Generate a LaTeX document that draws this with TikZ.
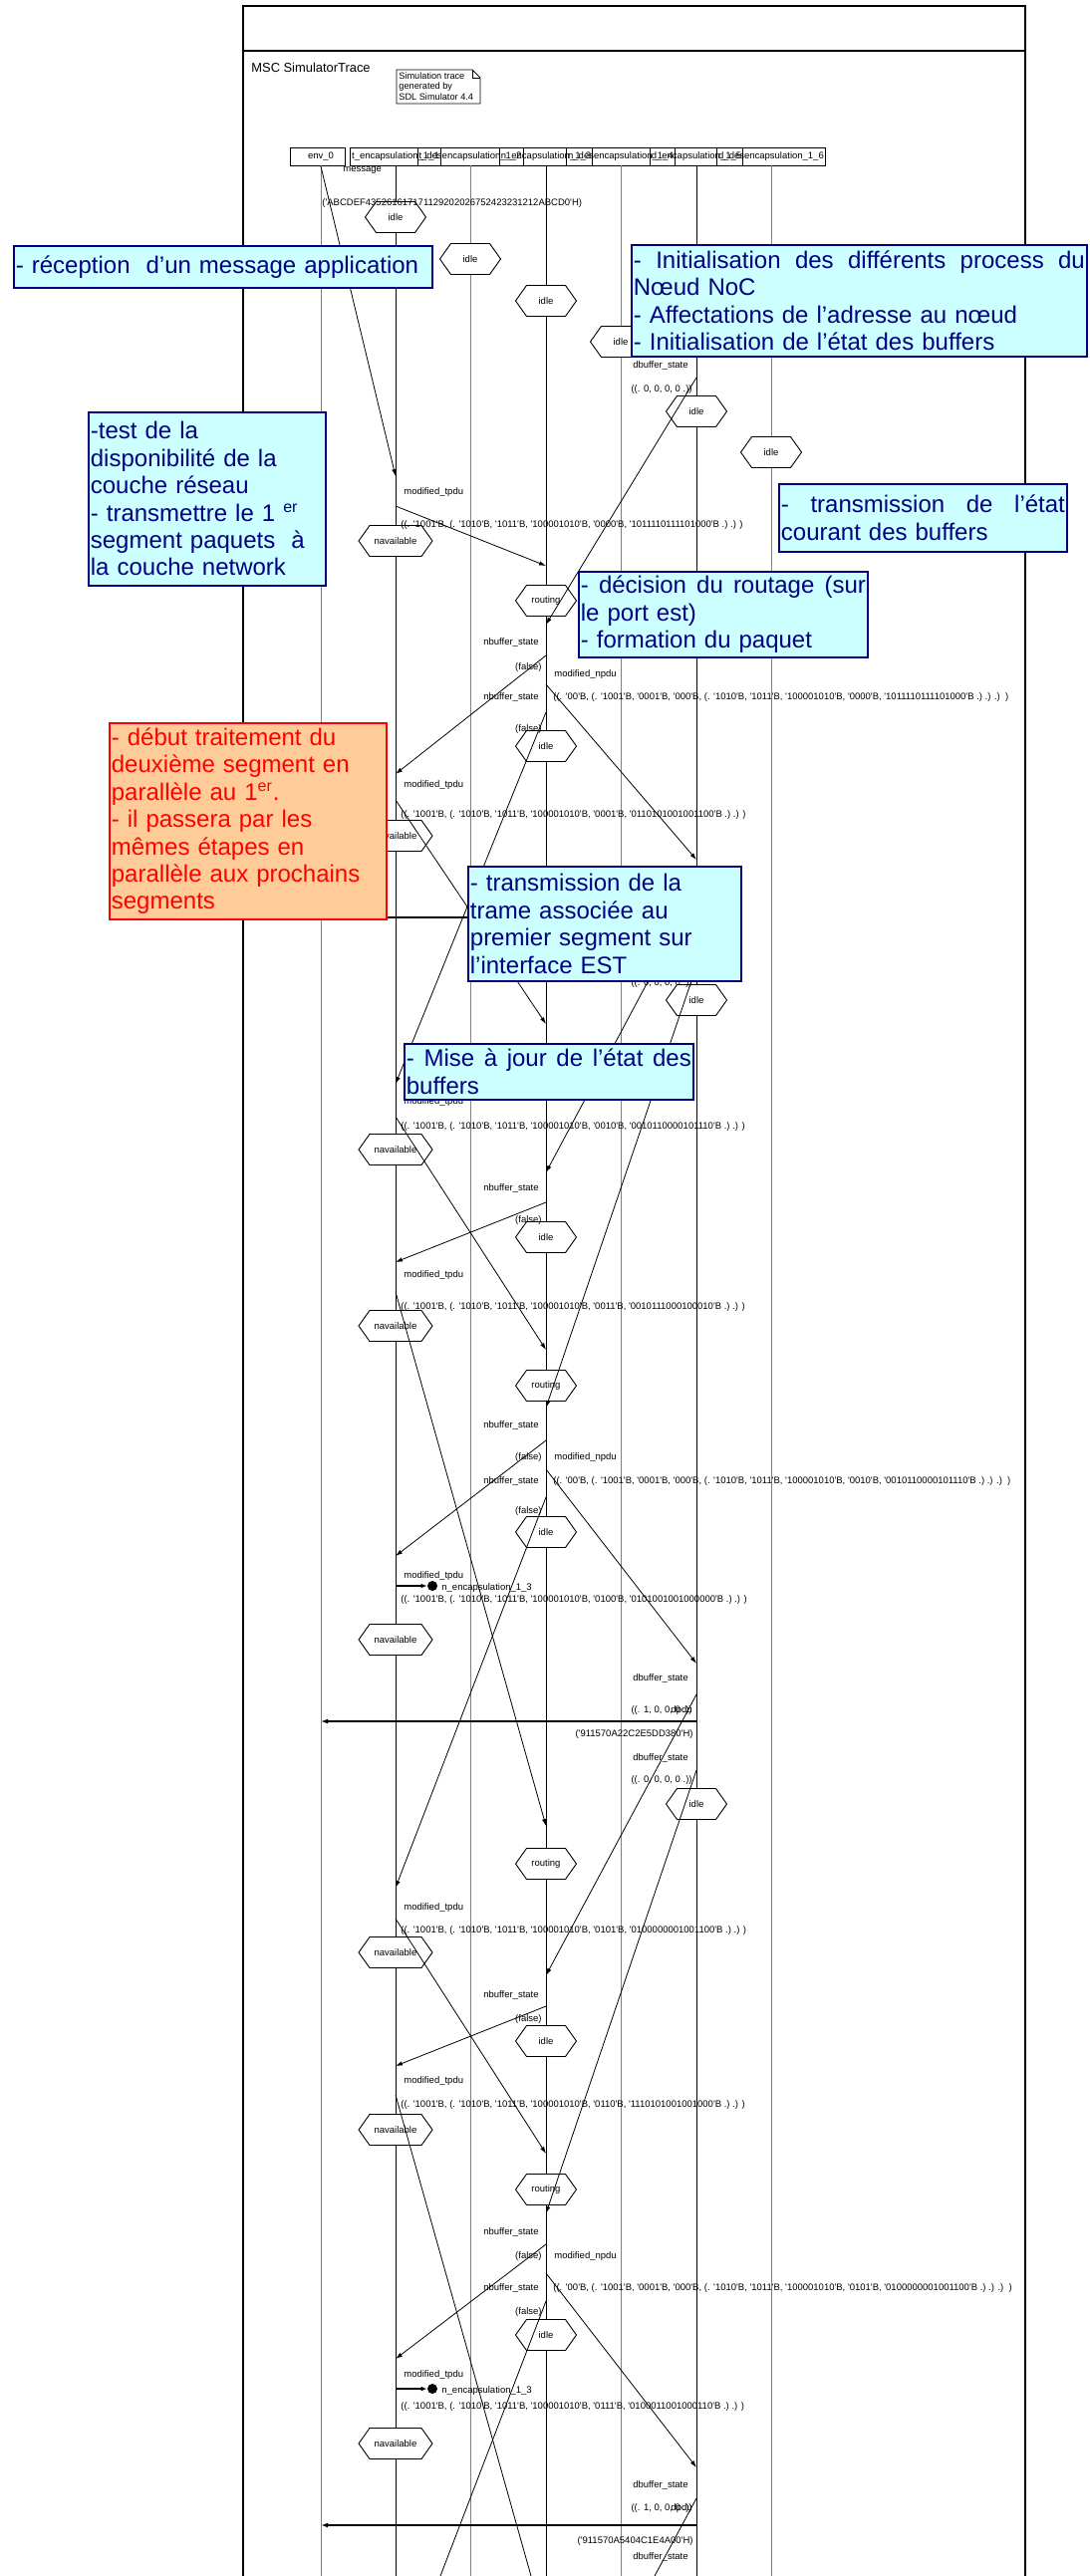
\documentclass[tikz,border=0pt]{standalone}
\usepackage{fontspec}
\usetikzlibrary{arrows.meta}
\newfontfamily\arialf{Liberation Sans}
\definecolor{callcyan}{HTML}{CCFFFF}
\definecolor{callnavy}{HTML}{000080}
\definecolor{callorange}{HTML}{FFCC99}
\definecolor{callred}{HTML}{FF0000}

% parameter strings of the transport and network PDUs
\newcommand\tpar[2]{((. '1001'B, (. '1010'B, '1011'B, '100001010'B, '#1'B, '#2'B .) .) )}
\newcommand\npar[2]{((. '00'B, (. '1001'B, '0001'B, '000'B, (. '1010'B, '1011'B, '100001010'B, '#1'B, '#2'B .) .) .)\ \ )}
% state symbol: name, x, y, half width, label
\newcommand\statehex[5]{%
  \draw[hexframe] (#2-#4,#3) -- (#2-#4+11,#3-15.5) -- (#2+#4-11,#3-15.5) -- (#2+#4,#3)
     -- (#2+#4-11,#3+15.5) -- (#2-#4+11,#3+15.5) -- cycle;
  \node[tr] (#1) at (#2,#3) {#5};}
% message: name, style, x1, y1, x2, y2
\newcommand\msgline[6]{%
  \coordinate (#1s) at (#3,#4);
  \coordinate (#1e) at (#5,#6);
  \draw[#2] (#1s) -- (#1e);}
% a line spread over the full width of its box
\newcommand\fullline[1]{\hbox to\hsize{#1}}

\begin{document}
\begin{tikzpicture}[x=0.5pt,y=-0.5pt,
  tr/.style={font=\arialf\fontsize{4.75}{5.7}\selectfont,inner sep=0pt},
  trl/.style={tr,anchor=west},
  trr/.style={tr,anchor=east},
  head/.style={tr,draw,line width=0.4pt,inner xsep=0.8pt,minimum height=9pt},
  lifedark/.style={line width=0.45pt,black},
  lifelight/.style={line width=0.4pt,black!50},
  hexframe/.style={draw,line width=0.45pt,fill=white},
  msg/.style={line width=0.4pt,-{Latex[length=3.5pt,width=2.2pt]}},
  cut/.style={line width=0.4pt},
  envmsg/.style={line width=0.7pt,-{Latex[length=3.5pt,width=2.4pt]}},
  lostdot/.style={circle,fill=black,inner sep=0pt,minimum size=5pt},
  lost/.style={line width=0.7pt,-{Latex[length=3pt,width=2.4pt]}},
  callbase/.style={line width=0.9pt,anchor=north west,align=left,inner xsep=1pt,inner ysep=0pt,
     font=\arialf\fontsize{12}{13.7}\selectfont},
  bluecall/.style={callbase,draw=callnavy,fill=callcyan,text=callnavy},
  orangecall/.style={callbase,draw=callred,fill=callorange,text=callred},
]
\useasboundingbox (0,0) rectangle (1093,2586);
\clip (0,0) rectangle (1093,2586);
\fill[white] (0,0) rectangle (1093,2586);

% ---- frame ----
\draw[line width=1pt] (244,2600) -- (244,6) -- (1029,6) -- (1029,2600);
\draw[line width=0.6pt] (244,51) -- (1029,51);
\node[anchor=west,inner sep=0pt,font=\arialf\fontsize{6.45}{7.5}\selectfont] (title) at (252,68) {MSC SimulatorTrace};
\draw[line width=0.4pt] (398,70) -- (474,70) -- (482,78) -- (482,104) -- (398,104) -- cycle;
\draw[line width=0.4pt] (474,70) -- (474,78) -- (482,78);
\node[tr,anchor=north west,align=left,font=\arialf\fontsize{4.6}{5.3}\selectfont] (note) at (400,72)
  {Simulation trace\\generated by\\SDL Simulator 4.4};

% ---- instance heads ----
\coordinate (hb) at (0,166);
\coordinate (bot) at (0,2600);
\draw[line width=0.4pt] (291,148) rectangle (346,166);
\node[tr] (h0) at (322,157) {env\_0};
\node[head] (h1) at (397,157) {t\_encapsulation\_1\_1};
\node[head] (h2) at (472,157) {t\_desencapsulation\_1\_2};
\node[head] (h3) at (548,157) {n\_encapsulation\_1\_3};
\node[head] (h4) at (623,157) {n\_desencapsulation\_1\_4};
\node[head] (h5) at (699,157) {d\_encapsulation\_1\_5};
\node[head] (h6) at (774,157) {d\_desencapsulation\_1\_6};

% ---- lifelines ----
\draw[lifelight] (h0 |- hb) -- (h0 |- bot);
\draw[lifedark] (h1 |- hb) -- (h1 |- bot);
\draw[lifelight] (h2 |- hb) -- (h2 |- bot);
\draw[lifedark] (h3 |- hb) -- (h3 |- bot);
\draw[lifelight] (h4 |- hb) -- (h4 |- bot);
\draw[lifedark] (h5 |- hb) -- (h5 |- bot);
\draw[lifelight] (h6 |- hb) -- (h6 |- bot);

% ---- states ----
\statehex{s1}{397}{218}{30.5}{idle}
\statehex{s2}{472}{260}{30.5}{idle}
\statehex{s3}{548}{302}{30.5}{idle}
\statehex{s4}{623}{343}{30.5}{idle}
\statehex{s5}{699}{413}{30.5}{idle}
\statehex{s6}{774}{454}{30.5}{idle}
\statehex{na1}{397}{543}{37}{navailable}
\statehex{na2}{397}{839}{37}{navailable}
\statehex{na3}{397}{1154}{37}{navailable}
\statehex{na4}{397}{1331}{37}{navailable}
\statehex{na5}{397}{1646}{37}{navailable}
\statehex{na6}{397}{1960}{37}{navailable}
\statehex{na7}{397}{2138}{37}{navailable}
\statehex{na8}{397}{2453}{37}{navailable}
\statehex{r1}{548}{603}{30.5}{routing}
\statehex{n1}{548}{749}{30.5}{idle}
\statehex{n2}{548}{1242}{30.5}{idle}
\statehex{r3}{548}{1391}{30.5}{routing}
\statehex{n3}{548}{1538}{30.5}{idle}
\statehex{r4}{548}{1871}{30.5}{routing}
\statehex{n4}{548}{2049}{30.5}{idle}
\statehex{r5}{548}{2198}{30.5}{routing}
\statehex{n5}{548}{2344}{30.5}{idle}
\statehex{d1}{699}{1004}{30.5}{idle}
\statehex{d2}{699}{1811}{30.5}{idle}

% ---- messages ----
\msgline{m0}{msg}{322}{167}{397}{478}
\msgline{m1}{msg}{699}{379}{548}{627}
\msgline{m2}{msg}{397}{508}{548}{568}
\msgline{m3}{msg}{548}{658}{397}{777}
\msgline{m4}{msg}{548}{687}{699}{863}
\msgline{m5}{msg}{548}{715}{397}{1088}
\msgline{m6}{msg}{397}{803}{548}{1028}
\msgline{m7}{msg}{699}{894}{548}{1177}
\msgline{m8}{envmsg}{699}{921}{322}{921}
\msgline{m9}{msg}{699}{970}{548}{1413}
\msgline{m10}{msg}{397}{1121}{548}{1355}
\msgline{m11}{msg}{548}{1207}{397}{1267}
\msgline{m12}{msg}{397}{1297}{548}{1833}
\msgline{m13}{msg}{548}{1446}{397}{1562}
\msgline{m14}{msg}{548}{1475}{699}{1670}
\msgline{m15}{msg}{548}{1503}{397}{1895}
\msgline{m17}{msg}{699}{1701}{548}{1983}
\msgline{m18}{envmsg}{699}{1728}{322}{1728}
\msgline{m19}{msg}{699}{1777}{548}{2222}
\msgline{m20}{msg}{397}{1926}{548}{2162}
\msgline{m21}{msg}{548}{2014}{397}{2074}
\msgline{m22}{cut}{397}{2103}{533}{2586}
\msgline{m23}{msg}{548}{2253}{397}{2368}
\msgline{m24}{msg}{548}{2282}{699}{2477}
\msgline{m25}{cut}{548}{2310}{442}{2586}
\msgline{m27}{cut}{699}{2508}{657}{2586}
\msgline{m28}{envmsg}{699}{2535}{322}{2535}
% lost messages
\coordinate (l1s) at (397,1592);
\node[lostdot] (l1d) at (434,1592) {};
\draw[lost] (l1s) -- (l1d);
\coordinate (l2s) at (397,2398);
\node[lostdot] (l2d) at (434,2398) {};
\draw[lost] (l2s) -- (l2d);
\node[trl] (l1t) at (443,1594) {n\_encapsulation\_1\_3};
\node[trl] (l2t) at (443,2400) {n\_encapsulation\_1\_3};

% ---- message labels ----
\node[trl] (g0) at (344,171) {message};
\node[trl] (g0p) at (323,204) {('ABCDEF435261617171129202026752423231212ABCD0'H)};

\node[trl] (ta1) at (405,494) {modified\_tpdu};
\node[trl] (tp1) at (402,527) {\tpar{0000}{1011110111101000}};
\node[trl] (ta2) at (405,788) {modified\_tpdu};
\node[trl] (tp2) at (402,818) {\tpar{0001}{0110101001001100}};
\node[trl] (ta3) at (405,1106) {modified\_tpdu};
\node[trl] (tp3) at (402,1131) {\tpar{0010}{0010110000101110}};
\node[trl] (ta4) at (405,1280) {modified\_tpdu};
\node[trl] (tp4) at (402,1312) {\tpar{0011}{0010111000100010}};
\node[trl] (ta5) at (405,1582) {modified\_tpdu};
\node[trl] (tp5) at (402,1606) {\tpar{0100}{0101001001000000}};
\node[trl] (ta6) at (405,1915) {modified\_tpdu};
\node[trl] (tp6) at (402,1938) {\tpar{0101}{0100000001001100}};
\node[trl] (ta7) at (405,2089) {modified\_tpdu};
\node[trl] (tp7) at (402,2113) {\tpar{0110}{1110101001001000}};
\node[trl] (ta8) at (405,2384) {modified\_tpdu};
\node[trl] (tp8) at (402,2416) {\tpar{0111}{0100011001000110}};

\foreach \y [count=\i] in {645,700,1193,1431,1487,2003,2241,2297}
  \node[trr] (nb\i) at (541,\y) {nbuffer\_state};
\foreach \y [count=\i] in {670,732,1225,1463,1517,2027,2265,2321}
  \node[trr] (fa\i) at (544,\y) {(false)};
\node[trl] (np1) at (556,677) {modified\_npdu};
\node[trl] (np2) at (556,1463) {modified\_npdu};
\node[trl] (np3) at (556,2265) {modified\_npdu};
\node[trl] (nq1) at (555,700) {\npar{0000}{1011110111101000}};
\node[trl] (nq2) at (555,1487) {\npar{0010}{0010110000101110}};
\node[trl] (nq3) at (555,2297) {\npar{0101}{0100000001001100}};

\foreach \y [count=\i] in {367,1685,1765,2495,2567}
  \node[trr] (db\i) at (691,\y) {dbuffer\_state};
\foreach \y [count=\i] in {391,987,1787}
  \node[trr] (dz\i) at (695,\y) {((. 0, 0, 0, 0 .))};
\foreach \y [count=\i] in {1717,2518}{
  \node[trr] (do\i) at (695,\y) {((. 1, 0, 0, 0 .))};
  \node[trr] (dp\i) at (695,\y) {dpdu};}
\node[trr] (dh1) at (696,1741) {('911570A22C2E5DD380'H)};
\node[trr] (dh2) at (696,2551) {('911570A5404C1E4A00'H)};

% ---- comments laid over the trace ----
\node[bluecall,minimum width=210pt,minimum height=21pt,text width=208pt] (c1) at (13,246)
  {- réception\ \ d’un message application};
\node[bluecall,minimum width=119pt,minimum height=87pt,text width=117pt] (c2) at (88,413)
  {-test de la\\disponibilité de la\\couche réseau\\- transmettre le 1 \smash{\textsuperscript{er}}\\segment paquets\ \ à\\la couche network};
\node[bluecall,minimum width=228.5pt,minimum height=56pt,text width=226.5pt] (c3) at (633,245)
  {\fullline{-\hfill Initialisation\hfill des\hfill différents\hfill process\hfill du}\\Nœud NoC\\- Affectations de l’adresse au nœud\\- Initialisation de l’état des buffers};
\node[bluecall,minimum width=144.5pt,minimum height=34pt,text width=142.5pt] (c4) at (781,485)
  {\fullline{-\hfill transmission\hfill de\hfill l’état}\\courant des buffers};
\node[bluecall,minimum width=145pt,minimum height=43pt,text width=143pt] (c5) at (580,573)
  {\fullline{-\hfill décision\hfill du\hfill routage\hfill (sur}\\le port est)\\- formation du paquet};
\node[orangecall,minimum width=139pt,minimum height=98.5pt,text width=137pt] (c6) at (109,725)
  {- début traitement du\\deuxième segment en\\parallèle au 1\smash{\textsuperscript{er}}.\\- il passera par les\\mêmes étapes en\\parallèle aux prochains\\segments};
\node[bluecall,minimum width=137pt,minimum height=57.5pt,text width=135pt] (c7) at (469,869)
  {- transmission de la\\trame associée au\\premier segment sur\\l’interface EST};
\node[bluecall,minimum width=145pt,minimum height=28pt,text width=143pt] (c8) at (405,1047)
  {\fullline{-\hfill Mise\hfill à\hfill jour\hfill de\hfill l’état\hfill des}\\buffers};
\end{tikzpicture}
\end{document}
